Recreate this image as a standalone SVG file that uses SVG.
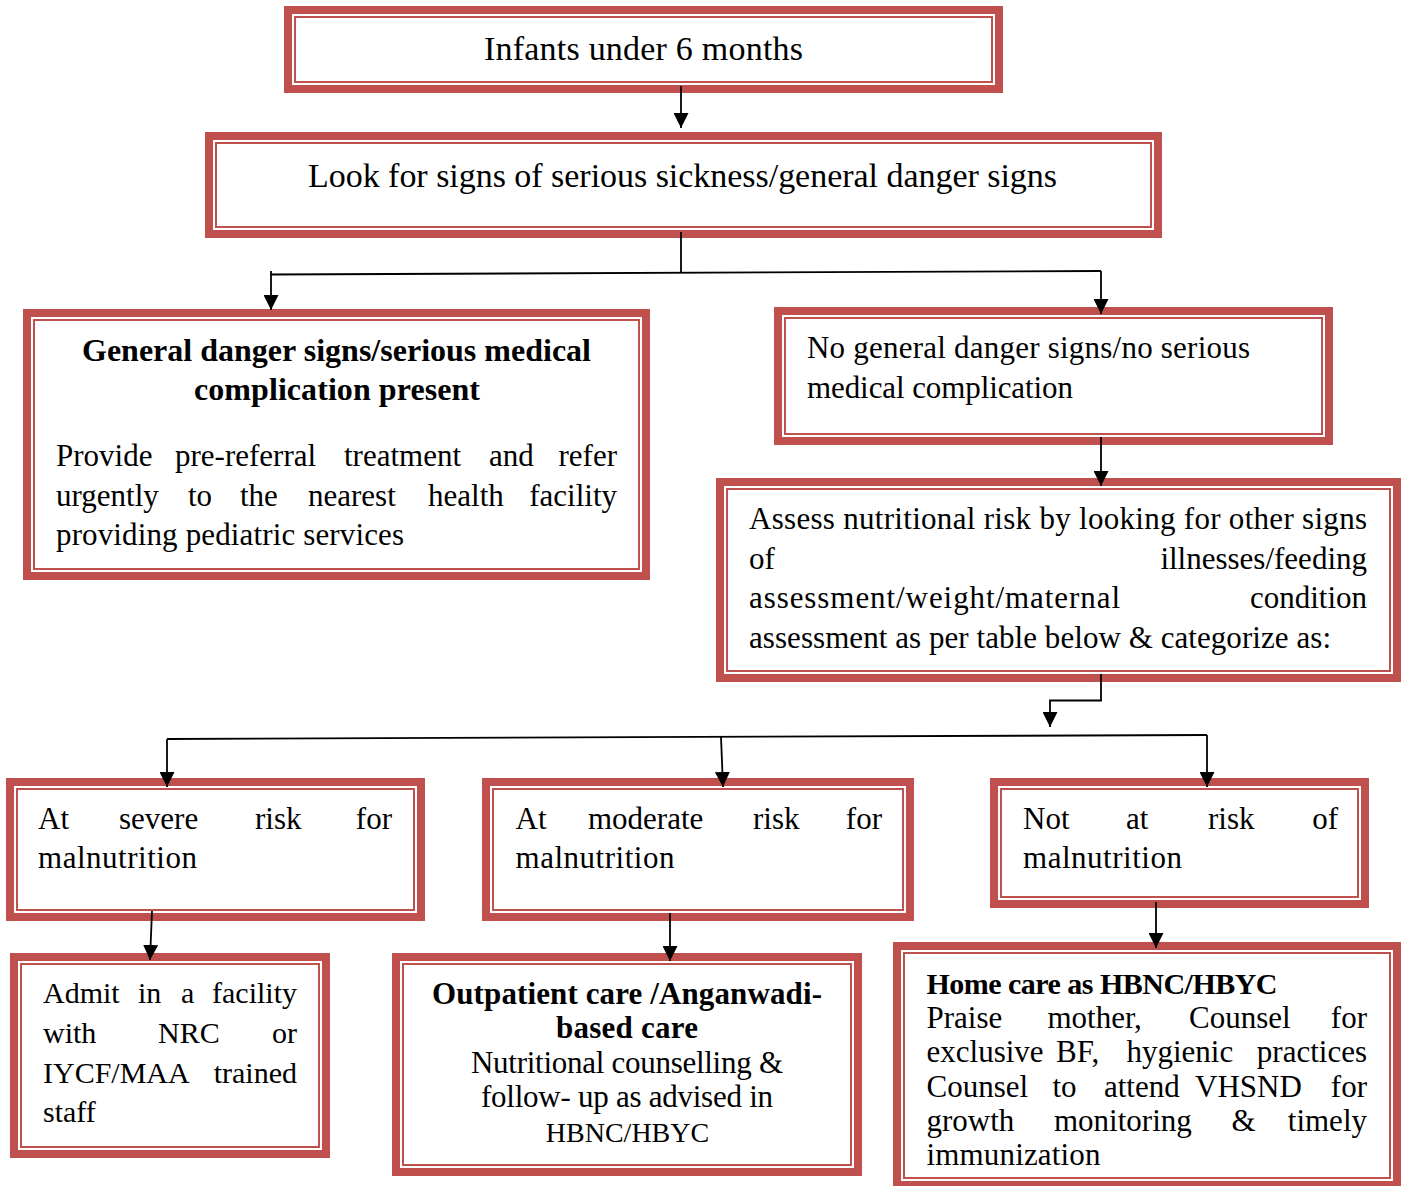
<svg xmlns="http://www.w3.org/2000/svg" width="1402" height="1186" viewBox="0 0 1402 1186">
<style>
.o{fill:#fff;stroke:#C0504D;stroke-width:8}
.i{fill:none;stroke:#C0504D;stroke-width:2}
text{font-family:"Liberation Serif","Times New Roman",serif;font-size:31px;fill:#000}
.b{font-weight:bold}
.big{font-size:34px}
.c{stroke:#000;stroke-width:1.8;fill:none}
</style>
<defs>
<marker id="ah" markerUnits="userSpaceOnUse" markerWidth="15" markerHeight="15" viewBox="0 0 15 15" refX="15" refY="7.5" orient="auto">
<path d="M0,0 L15,7.5 L0,15 z" fill="#000"/>
</marker>
</defs>
<rect width="1402" height="1186" fill="#fff"/>

<g id="n-infants">
<rect class="o" x="288" y="10" width="711" height="79"/>
<rect class="i" x="295" y="17" width="697" height="65"/>
<text class="big" x="643.5" y="60" text-anchor="middle" textLength="319">Infants under 6 months</text>
</g>

<g id="n-look">
<rect class="o" x="209" y="136" width="949" height="98"/>
<rect class="i" x="216" y="143" width="935" height="84"/>
<text class="big" x="682.5" y="187" text-anchor="middle" textLength="749">Look for signs of serious sickness/general danger signs</text>
</g>

<g id="n-danger">
<rect class="o" x="27" y="313" width="619" height="263"/>
<rect class="i" x="34" y="320" width="605" height="249"/>
<text class="b" style="font-size:32px" x="336.5" y="361" text-anchor="middle" textLength="509">General danger signs/serious medical</text>
<text class="b" style="font-size:32px" x="337" y="400" text-anchor="middle" textLength="286">complication present</text>
<text y="466"><tspan x="56">Provide </tspan><tspan x="175">pre-referral </tspan><tspan x="344">treatment </tspan><tspan x="489">and </tspan><tspan x="617" text-anchor="end">refer</tspan></text>
<text y="506"><tspan x="56">urgently </tspan><tspan x="188">to </tspan><tspan x="240">the </tspan><tspan x="308">nearest </tspan><tspan x="428">health </tspan><tspan x="617" text-anchor="end">facility</tspan></text>
<text x="56" y="545" textLength="348">providing pediatric services</text>
</g>

<g id="n-nodanger">
<rect class="o" x="778" y="311" width="551" height="130"/>
<rect class="i" x="785" y="318" width="537" height="116"/>
<text x="807" y="358" textLength="443">No general danger signs/no serious</text>
<text x="807" y="398" textLength="266">medical complication</text>
</g>

<g id="n-assess">
<rect class="o" x="720" y="482" width="677" height="196"/>
<rect class="i" x="727" y="489" width="663" height="182"/>
<text x="749" y="529" textLength="618">Assess nutritional risk by looking for other signs</text>
<text y="569"><tspan x="749">of </tspan><tspan x="1367" text-anchor="end">illnesses/feeding</tspan></text>
<text y="608"><tspan x="749" textLength="371">assessment/weight/maternal</tspan><tspan x="1367" text-anchor="end"> condition</tspan></text>
<text x="749" y="648" textLength="582">assessment as per table below &amp; categorize as:</text>
</g>

<g id="n-severe">
<rect class="o" x="10" y="782" width="411" height="135"/>
<rect class="i" x="17" y="789" width="397" height="121"/>
<text y="829"><tspan x="38">At </tspan><tspan x="119">severe </tspan><tspan x="255">risk </tspan><tspan x="392" text-anchor="end">for</tspan></text>
<text x="38" y="868" textLength="159">malnutrition</text>
</g>

<g id="n-moderate">
<rect class="o" x="486" y="782" width="424" height="135"/>
<rect class="i" x="493" y="789" width="410" height="121"/>
<text y="829"><tspan x="515.5">At </tspan><tspan x="588">moderate </tspan><tspan x="753">risk </tspan><tspan x="882" text-anchor="end">for</tspan></text>
<text x="515.5" y="868" textLength="159">malnutrition</text>
</g>

<g id="n-notrisk">
<rect class="o" x="994" y="782" width="371" height="122"/>
<rect class="i" x="1001" y="789" width="357" height="108"/>
<text y="829"><tspan x="1023">Not </tspan><tspan x="1126">at </tspan><tspan x="1208">risk </tspan><tspan x="1338" text-anchor="end">of</tspan></text>
<text x="1023" y="868" textLength="159">malnutrition</text>
</g>

<g id="n-admit">
<rect class="o" x="14" y="957" width="312" height="197"/>
<rect class="i" x="21" y="964" width="298" height="183"/>
<text y="1003" style="font-size:30px"><tspan x="43">Admit </tspan><tspan x="138">in </tspan><tspan x="181">a </tspan><tspan x="297" text-anchor="end">facility</tspan></text>
<text y="1043" style="font-size:30px"><tspan x="43">with </tspan><tspan x="158">NRC </tspan><tspan x="297" text-anchor="end">or</tspan></text>
<text y="1083" style="font-size:30px"><tspan x="43">IYCF/MAA </tspan><tspan x="297" text-anchor="end">trained</tspan></text>
<text x="43" y="1122" style="font-size:30px">staff</text>
</g>

<g id="n-outpatient">
<rect class="o" x="396" y="957" width="462" height="215"/>
<rect class="i" x="403" y="964" width="448" height="201"/>
<text class="b" x="627" y="1004" text-anchor="middle" textLength="390">Outpatient care /Anganwadi-</text>
<text class="b" x="627" y="1038" text-anchor="middle" textLength="142">based care</text>
<text x="627" y="1073" text-anchor="middle" textLength="312">Nutritional counselling &amp;</text>
<text x="627" y="1107" text-anchor="middle" textLength="292">follow- up as advised in</text>
<text x="627.5" y="1142" text-anchor="middle" style="font-size:28px">HBNC/HBYC</text>
</g>

<g id="n-home">
<rect class="o" x="897" y="946" width="500" height="239"/>
<rect class="i" x="904" y="953" width="486" height="225"/>
<text class="b" style="font-size:30px" x="926.5" y="994" textLength="351">Home care as HBNC/HBYC</text>
<text y="1028"><tspan x="926.5">Praise </tspan><tspan x="1047.5">mother, </tspan><tspan x="1189">Counsel </tspan><tspan x="1367" text-anchor="end">for</tspan></text>
<text y="1062"><tspan x="926.5">exclusive </tspan><tspan x="1056">BF, </tspan><tspan x="1126.5">hygienic </tspan><tspan x="1367" text-anchor="end">practices</tspan></text>
<text y="1097"><tspan x="926.5">Counsel </tspan><tspan x="1052.5">to </tspan><tspan x="1104">attend </tspan><tspan x="1195">VHSND </tspan><tspan x="1367" text-anchor="end">for</tspan></text>
<text y="1131"><tspan x="926.5">growth </tspan><tspan x="1054">monitoring </tspan><tspan x="1231.5">&amp; </tspan><tspan x="1367" text-anchor="end">timely</tspan></text>
<text x="926.5" y="1165" textLength="174">immunization</text>
</g>

<g id="connectors">
<path class="c" d="M681,86 L681,128" marker-end="url(#ah)"/>
<path class="c" d="M681,232 L681,273"/>
<path class="c" d="M271,274.5 L1101,271"/>
<path class="c" d="M271,271 L271,310" marker-end="url(#ah)"/>
<path class="c" d="M1101,271 L1101,314" marker-end="url(#ah)"/>
<path class="c" d="M1101,437 L1101,486" marker-end="url(#ah)"/>
<path class="c" d="M1101,674 L1101,700.5 L1050,700.5 L1050,727" marker-end="url(#ah)"/>
<path class="c" d="M167,739 L1207,735"/>
<path class="c" d="M167,739 L167,787" marker-end="url(#ah)"/>
<path class="c" d="M721,737 L723,787" marker-end="url(#ah)"/>
<path class="c" d="M1207,735 L1207,787" marker-end="url(#ah)"/>
<path class="c" d="M152,911 L150,960" marker-end="url(#ah)"/>
<path class="c" d="M670,913 L670,961" marker-end="url(#ah)"/>
<path class="c" d="M1156,902 L1156,948" marker-end="url(#ah)"/>
</g>
</svg>
